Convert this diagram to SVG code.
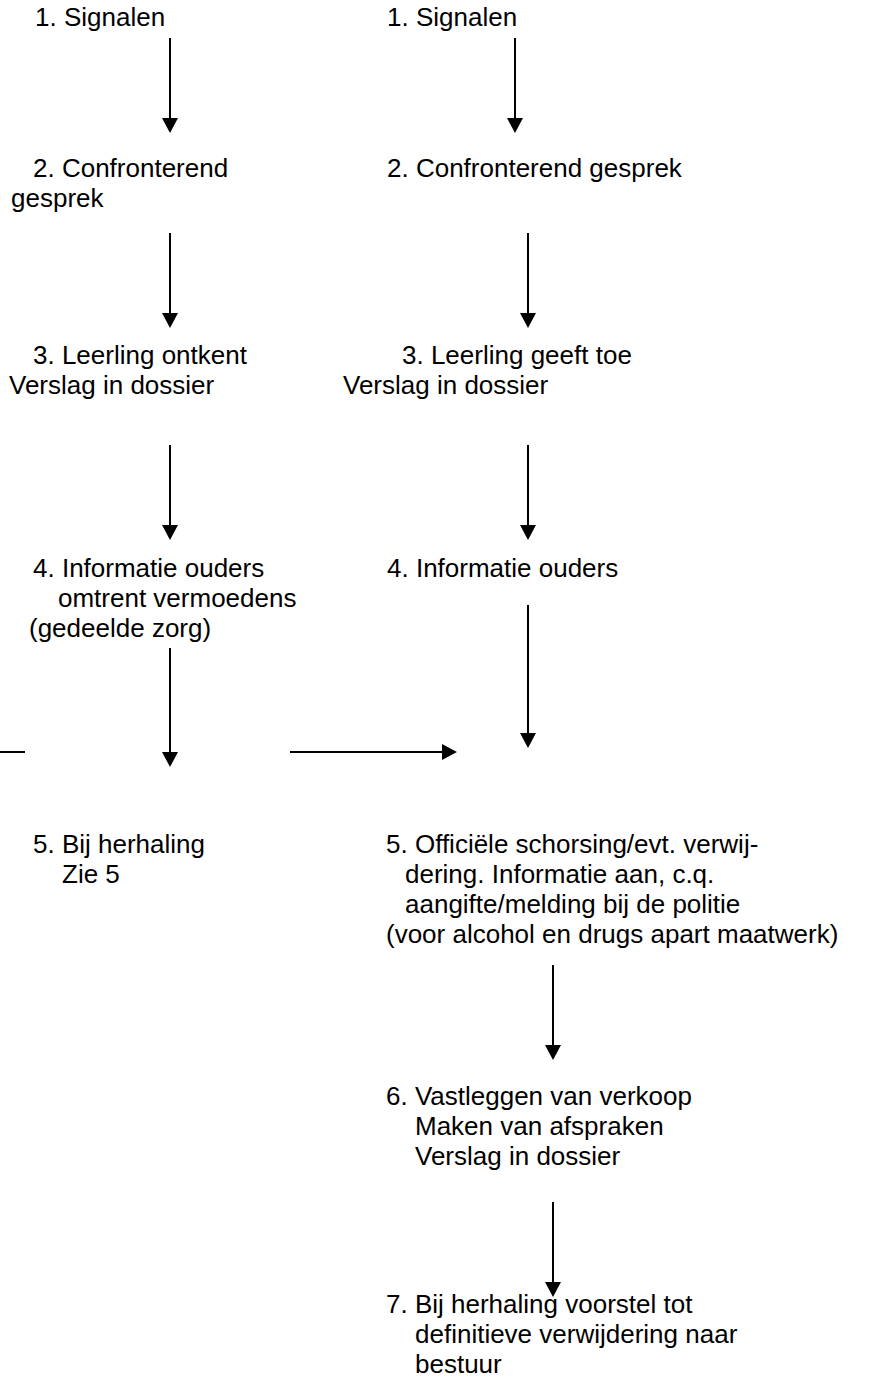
<svg xmlns="http://www.w3.org/2000/svg" width="895" height="1378" viewBox="0 0 895 1378">
<style>
text{font-family:"Liberation Sans",Arial,sans-serif;font-size:26px;fill:#000}
.c{stroke:#000;stroke-width:2;fill:none}
</style>
<defs>
<marker id="ah" markerWidth="15" markerHeight="16" refX="0" refY="8" orient="auto" markerUnits="userSpaceOnUse" viewBox="0 0 15 16"><path d="M0,0 L15,8 L0,16 z" fill="#000"/></marker>
</defs>
<rect width="895" height="1378" fill="#fff"/>
<g id="L1"><text x="35" y="26">1. Signalen</text></g>
<g id="L2"><text x="33" y="177">2. Confronterend</text><text x="11" y="207">gesprek</text></g>
<g id="L3"><text x="33" y="364">3. Leerling ontkent</text><text x="9" y="394">Verslag in dossier</text></g>
<g id="L4"><text x="33" y="577">4. Informatie ouders</text><text x="58" y="607">omtrent vermoedens</text><text x="29" y="637">(gedeelde zorg)</text></g>
<g id="L5"><text x="33" y="853">5. Bij herhaling</text><text x="62" y="883">Zie 5</text></g>
<g id="R1"><text x="387" y="26">1. Signalen</text></g>
<g id="R2"><text x="387" y="177">2. Confronterend gesprek</text></g>
<g id="R3"><text x="402" y="364">3. Leerling geeft toe</text><text x="343" y="394">Verslag in dossier</text></g>
<g id="R4"><text x="387" y="577">4. Informatie ouders</text></g>
<g id="R5"><text x="386" y="853">5. Officiële schorsing/evt. verwij-</text><text x="405" y="883">dering. Informatie aan, c.q.</text><text x="405" y="913">aangifte/melding bij de politie</text><text x="386" y="943">(voor alcohol en drugs apart maatwerk)</text></g>
<g id="R6"><text x="386" y="1105">6. Vastleggen van verkoop</text><text x="415" y="1135">Maken van afspraken</text><text x="415" y="1165">Verslag in dossier</text></g>
<g id="R7"><text x="386" y="1313">7. Bij herhaling voorstel tot</text><text x="415" y="1343">definitieve verwijdering naar</text><text x="415" y="1373">bestuur</text></g>
<g id="connectors" class="c">
<path class="c" d="M170,38 V118" marker-end="url(#ah)"/>
<path class="c" d="M170,233 V313" marker-end="url(#ah)"/>
<path class="c" d="M170,445 V525" marker-end="url(#ah)"/>
<path class="c" d="M170,648 V752" marker-end="url(#ah)"/>
<path class="c" d="M515,38 V118" marker-end="url(#ah)"/>
<path class="c" d="M528,233 V313" marker-end="url(#ah)"/>
<path class="c" d="M528,445 V525" marker-end="url(#ah)"/>
<path class="c" d="M528,605 V733" marker-end="url(#ah)"/>
<path class="c" d="M553,965 V1045" marker-end="url(#ah)"/>
<path class="c" d="M553,1202 V1282" marker-end="url(#ah)"/>
<path class="c" d="M290,752 H442" marker-end="url(#ah)"/>
<path class="c" d="M0,752 H25"/>
</g>
</svg>
